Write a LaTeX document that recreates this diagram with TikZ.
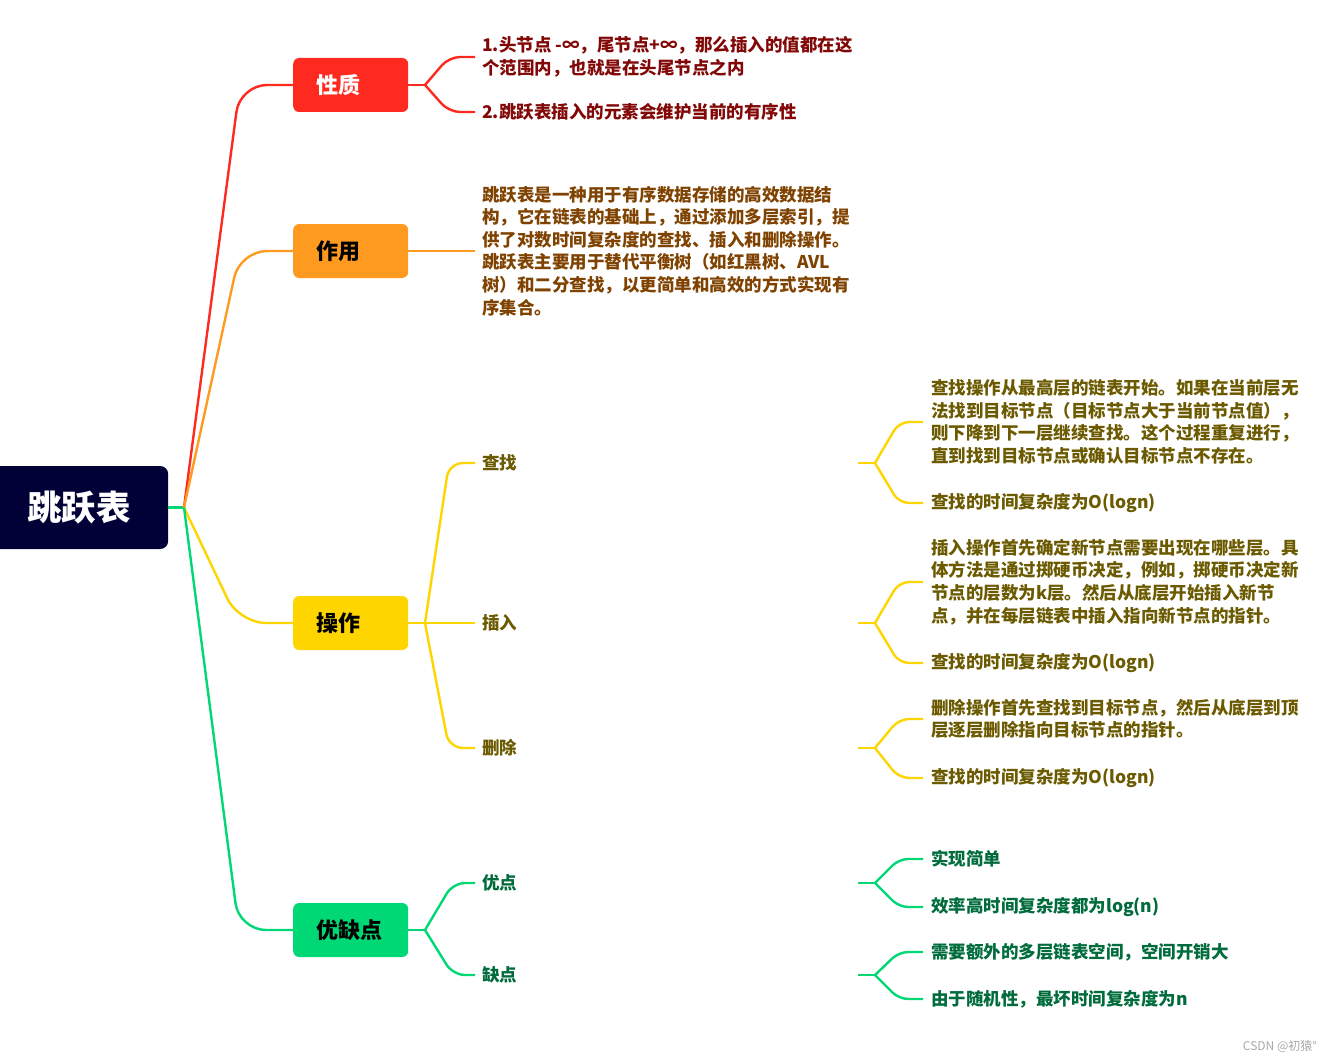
\documentclass[tikz,border=0pt]{standalone}
\usepackage{fontspec}
\setmainfont{Noto Sans CJK SC}
\definecolor{rootc}{HTML}{010037}
\definecolor{redc}{HTML}{FF2A1F}
\definecolor{orangec}{HTML}{FF9A20}
\definecolor{yellowc}{HTML}{FFD500}
\definecolor{greenc}{HTML}{00D875}
\definecolor{redt}{HTML}{820808}
\definecolor{oranget}{HTML}{7F4200}
\definecolor{yellowt}{HTML}{6B5A00}
\definecolor{greent}{HTML}{006B3B}
\definecolor{wmgray}{HTML}{A8A8A8}
\newcommand{\rootfont}{\fontsize{34.5pt}{40pt}\selectfont\bfseries}
\newcommand{\catfont}{\fontsize{22pt}{26pt}\selectfont\bfseries}
\newcommand{\leaffont}{\fontsize{17.5pt}{22.6pt}\selectfont\bfseries}
\begin{document}
\begin{tikzpicture}[x=1pt,y=-1pt,
  conn/.style={line width=2.4pt},
  rootbox/.style={rectangle, rounded corners=8pt, fill=rootc, text=white, anchor=west,
    minimum height=83pt, text width=104pt, inner xsep=37pt, align=left, font=\rootfont},
  catbox/.style={rectangle, rounded corners=6pt, anchor=west, minimum height=54pt,
    text width=69pt, inner xsep=23pt, inner ysep=0pt, align=left, font=\catfont},
  leaf/.style={anchor=west, inner xsep=7pt, inner ysep=0pt, align=left, font=\leaffont},
  leafb/.style={leaf, inner xsep=8pt},
]
\useasboundingbox (0,0) rectangle (1331,1062);
\clip (0,0) rectangle (1331,1062);

% root
\node[rootbox] (root) at (-10,507.5) {跳跃表};
\coordinate (h0) at (184,507.5);

% categories
\node[catbox, fill=redc, text=white] (c1) at (293,85) {性质};
\node[catbox, fill=orangec, text=black] (c2) at (293,251) {作用};
\node[catbox, fill=yellowc, text=black] (c3) at (293,623) {操作};
\node[catbox, fill=greenc, text=black] (c4) at (293,930) {优缺点};

\draw[conn, greenc] (root.east) -- (h0);
\draw[conn, redc, rounded corners=27pt] (h0) -- (240,85) -- (c1.west);
\draw[conn, orangec, rounded corners=27pt] (h0) -- (240,251) -- (c2.west);
\draw[conn, yellowc, rounded corners=27pt] (h0) -- (239,623) -- (c3.west);
\draw[conn, greenc, rounded corners=27pt] (h0) -- (239,930) -- (c4.west);

% 性质
\coordinate (h1) at (425,85);
\node[leaf, text=redt] (p1) at (475,57) {1.头节点 -∞，尾节点+∞，那么插入的值都在这\\个范围内，也就是在头尾节点之内};
\node[leaf, text=redt] (p2) at (475,112) {2.跳跃表插入的元素会维护当前的有序性};
\draw[conn, redc] (c1.east) -- (h1);
\draw[conn, redc, rounded corners=11pt] (h1) -- (449,57) -- (p1.west);
\draw[conn, redc, rounded corners=11pt] (h1) -- (449,112) -- (p2.west);

% 作用
\node[leaf, text=oranget] (u1) at (475,251) {跳跃表是一种用于有序数据存储的高效数据结\\构，它在链表的基础上，通过添加多层索引，提\\供了对数时间复杂度的查找、插入和删除操作。\\跳跃表主要用于替代平衡树（如红黑树、AVL\\树）和二分查找，以更简单和高效的方式实现有\\序集合。};
\draw[conn, orangec] (c2.east) -- (u1.west);

% 操作
\coordinate (h3) at (425,623);
\node[leaf, text=yellowt] (o1) at (475,463) {查找};
\node[leaf, text=yellowt] (o2) at (475,623) {插入};
\node[leaf, text=yellowt] (o3) at (475,748) {删除};
\draw[conn, yellowc] (c3.east) -- (h3);
\draw[conn, yellowc, rounded corners=14pt] (h3) -- (449,463) -- (o1.west);
\draw[conn, yellowc] (h3) -- (o2.west);
\draw[conn, yellowc, rounded corners=14pt] (h3) -- (449,748) -- (o3.west);

% 查找 details
\coordinate (s1) at (858,463);
\coordinate (g1) at (875,463);
\node[leafb, text=yellowt] (o1a) at (923,422) {查找操作从最高层的链表开始。如果在当前层无\\法找到目标节点（目标节点大于当前节点值），\\则下降到下一层继续查找。这个过程重复进行，\\直到找到目标节点或确认目标节点不存在。};
\node[leafb, text=yellowt] (o1b) at (923,503) {查找的时间复杂度为O(logn)};
\draw[conn, yellowc] (s1) -- (g1);
\draw[conn, yellowc, rounded corners=10pt] (g1) -- (899,422) -- (o1a.west);
\draw[conn, yellowc, rounded corners=10pt] (g1) -- (899,503) -- (o1b.west);

% 插入 details
\coordinate (s2) at (858,623);
\coordinate (g2) at (875,623);
\node[leafb, text=yellowt] (o2a) at (923,582) {插入操作首先确定新节点需要出现在哪些层。具\\体方法是通过掷硬币决定，例如，掷硬币决定新\\节点的层数为k层。然后从底层开始插入新节\\点，并在每层链表中插入指向新节点的指针。};
\node[leafb, text=yellowt] (o2b) at (923,663) {查找的时间复杂度为O(logn)};
\draw[conn, yellowc] (s2) -- (g2);
\draw[conn, yellowc, rounded corners=10pt] (g2) -- (899,582) -- (o2a.west);
\draw[conn, yellowc, rounded corners=10pt] (g2) -- (899,663) -- (o2b.west);

% 删除 details
\coordinate (s3) at (858,748);
\coordinate (g3) at (875,748);
\node[leafb, text=yellowt] (o3a) at (923,719) {删除操作首先查找到目标节点，然后从底层到顶\\层逐层删除指向目标节点的指针。};
\node[leafb, text=yellowt] (o3b) at (923,778) {查找的时间复杂度为O(logn)};
\draw[conn, yellowc] (s3) -- (g3);
\draw[conn, yellowc, rounded corners=10pt] (g3) -- (899,719) -- (o3a.west);
\draw[conn, yellowc, rounded corners=10pt] (g3) -- (899,778) -- (o3b.west);

% 优缺点
\coordinate (h4) at (425,930);
\node[leaf, text=greent] (y1) at (475,883) {优点};
\node[leaf, text=greent] (y2) at (475,975) {缺点};
\draw[conn, greenc] (c4.east) -- (h4);
\draw[conn, greenc, rounded corners=12pt] (h4) -- (453,883) -- (y1.west);
\draw[conn, greenc, rounded corners=12pt] (h4) -- (453,975) -- (y2.west);

\coordinate (s4) at (858,883);
\coordinate (g4) at (875,883);
\node[leafb, text=greent] (y1a) at (923,859) {实现简单};
\node[leafb, text=greent] (y1b) at (923,907) {效率高时间复杂度都为log(n)};
\draw[conn, greenc] (s4) -- (g4);
\draw[conn, greenc, rounded corners=9pt] (g4) -- (899,859) -- (y1a.west);
\draw[conn, greenc, rounded corners=9pt] (g4) -- (899,907) -- (y1b.west);

\coordinate (s5) at (858,975);
\coordinate (g5) at (875,975);
\node[leafb, text=greent] (y2a) at (923,952) {需要额外的多层链表空间，空间开销大};
\node[leafb, text=greent] (y2b) at (923,999) {由于随机性，最坏时间复杂度为n};
\draw[conn, greenc] (s5) -- (g5);
\draw[conn, greenc, rounded corners=9pt] (g5) -- (899,952) -- (y2a.west);
\draw[conn, greenc, rounded corners=9pt] (g5) -- (899,999) -- (y2b.west);

% watermark
\node[anchor=east, text=wmgray, inner sep=0pt, font=\fontsize{12pt}{14pt}\selectfont] (wm) at (1317,1046) {CSDN @初猿°};
\end{tikzpicture}
\end{document}
